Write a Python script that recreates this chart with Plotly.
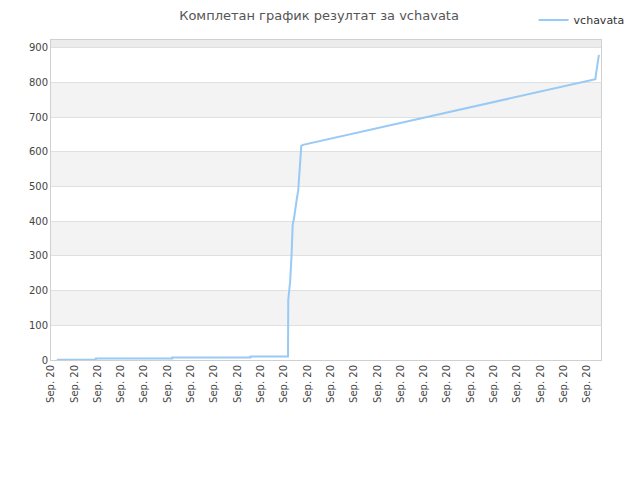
import plotly.graph_objects as go

# pozicije po x (indeks dana) i bodovi
x_vals = [0.25, 1.92, 1.92, 5.2, 5.2, 8.56, 8.56, 10.17, 10.18, 10.22, 10.26,
          10.32, 10.37, 10.43, 10.49, 10.54, 10.61, 10.67, 10.71, 10.74, 10.81,
          23.36, 23.39, 23.45, 23.51]
y_vals = [1, 1, 4, 4, 7, 7, 10, 10, 173, 197, 225,
          298, 389, 409, 442, 461, 490, 538, 576, 617, 620,
          809, 826, 860, 879]

tick_pos = list(range(24))
tick_labels = ["Sep. 20"] * 24

fig = go.Figure()
fig.add_trace(go.Scatter(x=x_vals, y=y_vals, mode="lines", name="vchavata",
                         line=dict(color="#99c9f5", width=2)))

# naizmenicne trake u pozadini
for lo, hi in [(100, 200), (300, 400), (500, 600), (700, 800)]:
    fig.add_shape(type="rect", xref="paper", yref="y", x0=0, x1=1, y0=lo, y1=hi,
                  fillcolor="#f3f3f3", line_width=0, layer="below")
fig.add_shape(type="rect", xref="paper", yref="y", x0=0, x1=1, y0=900, y1=922,
              fillcolor="#ececec", line_width=0, layer="below")

fig.update_layout(
    width=640, height=480,
    margin=dict(l=43, r=47, t=32, b=128, autoexpand=False),
    paper_bgcolor="white", plot_bgcolor="white",
    font=dict(family="DejaVu Sans", size=10, color="#444"),
    title=dict(text="Комплетан график резултат за vchavata", x=0.486, xanchor="center",
               y=0.993, yanchor="top", pad=dict(t=0, b=0),
               font=dict(size=13, color="#555")),
    showlegend=True,
    legend=dict(x=1.052, xanchor="right", y=1.0625, yanchor="middle",
                orientation="h", font=dict(size=11, color="#333"),
                bgcolor="rgba(0,0,0,0)"),
    xaxis=dict(range=[0, 23.6], tickvals=tick_pos, ticktext=tick_labels,
               tickangle=-90, showgrid=False, showline=True, linecolor="#d0d0d0",
               mirror=True, zeroline=False, ticks=""),
    yaxis=dict(range=[0, 922], tickvals=list(range(0, 1000, 100)),
               showgrid=True, gridcolor="#e0e0e0", showline=True,
               linecolor="#d0d0d0", mirror=True, zeroline=False, ticks=""),
)

fig.write_html("out.html")
